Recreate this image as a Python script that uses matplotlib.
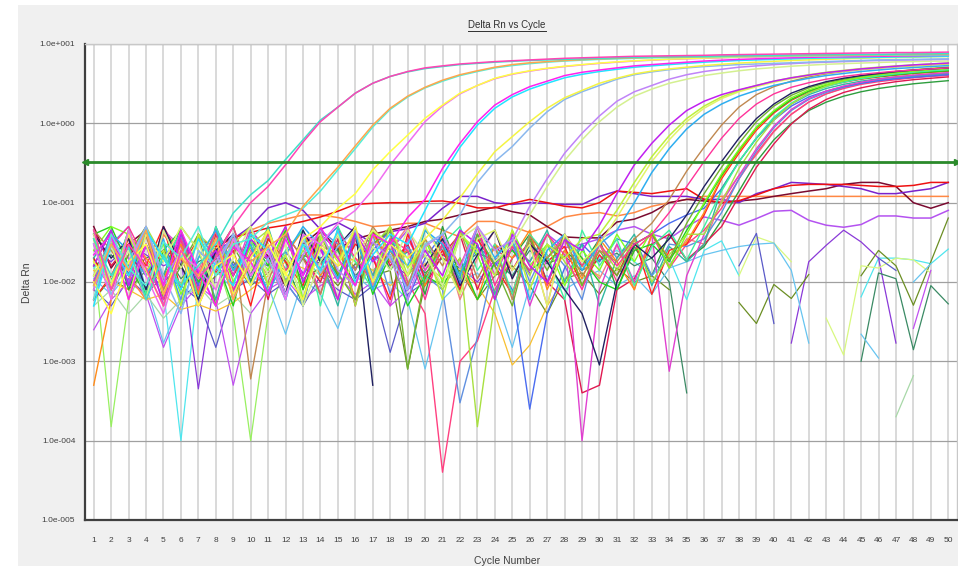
import numpy as np
import matplotlib
matplotlib.use("Agg")
import matplotlib.pyplot as plt
from matplotlib.lines import Line2D
from matplotlib.patches import Rectangle
from matplotlib.ticker import NullLocator

plt.rcParams['font.family'] = ['Liberation Sans', 'DejaVu Sans']

N = None  # gap (negative / not plotted value)

# ---------------- AXIS DATA ---------------- #
cycles = np.arange(1, 51)
threshold = 0.33
y_ticks = [1e-5, 1e-4, 1e-3, 1e-2, 1e-1, 1e0, 1e1]
y_tick_labels = ["1.0e-005", "1.0e-004", "1.0e-003", "1.0e-002",
                 "1.0e-001", "1.0e+000", "1.0e+001"]

# ---------------- EARLY AMPLIFICATION CURVES ---------------- #
turq = [.035, .012, .028, .006, .022, .009, .016, .030, .074, .126,
        .19, .35, .62, 1.1, 1.6, 2.4, 3.2, 3.9, 4.45, 4.9,
        5.2, 5.5, 5.7, 5.9, 6.05, 6.2, 6.3, 6.4, 6.5, 6.6,
        6.7, 6.8, 6.85, 6.9, 6.95, 7.0, 7.05, 7.1, 7.15, 7.2,
        7.25, 7.3, 7.3, 7.35, 7.4, 7.4, 7.45, 7.5, 7.5, 7.55]
pink = [.045, .008, .030, .015, .005, .025, .011, .020, .050, .100,
        .16, .30, .58, 1.05, 1.6, 2.4, 3.2, 3.9, 4.5, 5.0,
        5.3, 5.6, 5.8, 6.0, 6.15, 6.3, 6.45, 6.6, 6.7, 6.8,
        6.9, 7.0, 7.05, 7.1, 7.15, 7.2, 7.3, 7.35, 7.4, 7.45,
        7.5, 7.55, 7.6, 7.65, 7.7, 7.75, 7.8, 7.8, 7.85, 7.9]
orange_a = [.009, .030, .014, .045, .007, .020, .012, .035, .006, .018,
            .028, .040, .090, .16, .28, .52, .95, 1.55, 2.2, 2.85,
            3.5, 4.1, 4.6, 5.1, 5.5, 5.8, 6.0, 6.2, 6.35, 6.5,
            6.6, 6.7, 6.8, 6.85, 6.9, 6.95, 7.0, 7.05, 7.1, 7.1,
            7.15, 7.2, 7.2, 7.25, 7.3, 7.3, 7.35, 7.35, 7.4, 7.4]
aqua = [.006, .040, .015, .009, .032, .020, .050, .012, .030, .035,
        .057, .070, .085, .14, .26, .48, .90, 1.5, 2.15, 2.8,
        3.4, 4.0, 4.5, 5.0, 5.35, 5.65, 5.9, 6.1, 6.25, 6.4,
        6.5, 6.6, 6.7, 6.75, 6.8, 6.85, 6.9, 6.95, 7.0, 7.0,
        7.05, 7.1, 7.1, 7.15, 7.2, 7.2, 7.25, 7.25, 7.3, 7.3]
yellow_a = [.010, .004, .018, .030, .007, .025, .005, .016, .022, .009,
            .030, .012, .035, .050, .085, .13, .26, .44, .71, 1.16,
            1.7, 2.4, 3.0, 3.7, 4.2, 4.6, 4.95, 5.25, 5.5, 5.75,
            5.95, 6.15, 6.3, 6.45, 6.55, 6.65, 6.75, 6.85, 6.95, 7.0,
            7.05, 7.1, 7.15, 7.2, 7.25, 7.3, 7.35, 7.4, 7.45, 7.5]
orchid = [.030, .006, .045, .012, .004, .022, .015, .008, .035, .012,
          .025, .006, .040, .030, .055, .080, .145, .30, .56, 1.05,
          1.65, 2.35, 3.0, 3.65, 4.15, 4.55, 4.9, 5.2, 5.45, 5.7,
          5.9, 6.1, 6.25, 6.4, 6.5, 6.6, 6.7, 6.8, 6.85, 6.9,
          6.95, 7.0, 7.05, 7.1, 7.15, 7.2, 7.25, 7.3, 7.3, 7.35]
magenta_a = [.022, .040, .006, .030, .009, .045, .014, .005, .028, .018,
             .007, .035, .012, .050, .020, .009, .040, .030, .065, .11,
             .27, .56, 1.05, 1.7, 2.3, 2.9, 3.4, 4.0, 4.4, 4.7,
             5.0, 5.3, 5.5, 5.7, 5.9, 6.1, 6.25, 6.4, 6.5, 6.6,
             6.7, 6.8, 6.85, 6.9, 6.95, 7.0, 7.05, 7.1, 7.15, 7.2]
cyan_a = [.005, .030, .012, .045, .020, .008, .035, .016, .009, .040,
          .025, .006, .030, .014, .045, .010, .022, .040, .030, .080,
          .22, .50, .95, 1.55, 2.15, 2.7, 3.2, 3.75, 4.15, 4.5,
          4.8, 5.1, 5.3, 5.5, 5.7, 5.9, 6.05, 6.2, 6.3, 6.4,
          6.5, 6.6, 6.65, 6.7, 6.75, 6.8, 6.85, 6.9, 6.95, 7.0]
yellow_b = [.018, .009, .040, .014, .005, .025, .011, .035, .007, .020,
            .045, .013, .006, .028, .016, .050, .010, .030, .020, .035,
            .060, .115, .23, .44, .68, 1.05, 1.55, 2.1, 2.6, 3.2,
            3.7, 4.2, 4.55, 4.85, 5.1, 5.35, 5.55, 5.75, 5.9, 6.05,
            6.2, 6.3, 6.4, 6.5, 6.6, 6.7, 6.75, 6.8, 6.9, 6.95]
lightblue = [.030, .007, .018, .050, .012, .004, .025, .015, .040, .009,
             .020, .006, .035, .013, .028, .045, .011, .022, .008, .030,
             .040, .070, .18, .33, .51, .87, 1.4, 2.0, 2.5, 3.0,
             3.6, 4.1, 4.45, 4.75, 5.0, 5.2, 5.35, 5.5, 5.6, 5.7,
             5.8, 5.9, 6.0, 6.1, 6.2, 6.3, 6.35, 6.4, 6.45, 6.5]
lavender = [.008, .035, .015, .050, .010, .025, .005, .018, .040, .012,
            .030, .007, .022, .045, .014, .009, .032, .020, .006, .028,
            .040, .015, .050, .025, .034, .090, .20, .42, .75, 1.24,
            1.9, 2.5, 3.0, 3.6, 4.1, 4.5, 4.8, 5.1, 5.3, 5.5,
            5.65, 5.8, 5.9, 6.0, 6.1, 6.2, 6.25, 6.3, 6.35, 6.4]
palegreen = [.040, .010, .025, .006, .045, .015, .032, .008, .020, .050,
             .012, .030, .005, .018, .040, .010, .028, .014, .045, .022,
             .009, .035, .050, .018, .030, .070, .16, .34, .62, 1.05,
             1.6, 2.2, 2.7, 3.2, 3.6, 4.0, 4.3, 4.6, 4.85, 5.05,
             5.25, 5.4, 5.55, 5.65, 5.75, 5.85, 5.95, 6.0, 6.05, 6.1]
purplemag = [.016, .045, .009, .030, .005, .040, .013, .025, .007, .035,
             .020, .050, .010, .028, .006, .042, .018, .032, .008, .025,
             .012, .045, .030, .006, .040, .016, .010, .034, .025, .052,
             .13, .30, .56, .95, 1.45, 1.9, 2.3, 2.65, 3.0, 3.4,
             3.75, 4.05, 4.35, 4.6, 4.85, 5.05, 5.25, 5.45, 5.6, 5.75]
ygreen1 = [.035, .008, .045, .014, .025, .005, .040, .012, .030, .050,
           .009, .022, .006, .038, .018, .045, .010, .050, .015, .030,
           .006, .040, .025, .012, .045, .008, .030, .020, .035, .040,
           .080, .18, .38, .70, 1.15, 1.65, 2.15, 2.6, 3.0, 3.4,
           3.75, 4.1, 4.4, 4.65, 4.9, 5.1, 5.3, 5.45, 5.6, 5.75]
ygreen2 = [.012, .030, .006, .040, .018, .050, .025, .008, .035, .014,
           .045, .009, .028, .040, .006, .022, .045, .030, .012, .050,
           .020, .007, .035, .045, .014, .030, .005, .040, .018, .030,
           .065, .15, .33, .62, 1.05, 1.55, 2.05, 2.5, 2.9, 3.3,
           3.65, 4.0, 4.3, 4.55, 4.8, 5.0, 5.2, 5.35, 5.5, 5.65]
skyblue = [.009, .040, .025, .012, .035, .005, .020, .045, .014, .030,
           .007, .022, .050, .028, .011, .040, .008, .025, .016, .045,
           .030, .012, .050, .020, .035, .006, .025, .040, .014, .030,
           .045, .10, .24, .48, .85, 1.3, 1.75, 2.2, 2.6, 3.0,
           3.35, 3.7, 4.0, 4.25, 4.5, 4.7, 4.9, 5.05, 5.2, 5.35]

# ---------------- LATE CLUSTER (Ct ~36-39) ---------------- #
brown = [.045, .025, .012, .038, .008, .022, .005, .016, .035, .0006,
         .010, .040, .020, .007, .030, .014, .050, .025, .009, .035,
         .016, .045, .011, .028, .006, .038, .020, .035, .012, .025,
         .018, .035, .055, .11, .25, .50, .95, 1.6, 2.3, 2.9,
         3.4, 3.85, 4.2, 4.5, 4.75, 4.95, 5.15, 5.3, 5.45, 5.6]
deeppink = [.010, .028, .050, .018, .006, .035, .012, .045, .008, .022,
            .040, .014, .030, .007, .045, .020, .010, .035, .025, .006,
            .032, .016, .050, .009, .028, .014, .040, .022, .008, .030,
            .016, .030, .040, .075, .16, .33, .65, 1.15, 1.75, 2.35,
            2.85, 3.25, 3.6, 3.9, 4.15, 4.35, 4.55, 4.7, 4.85, 5.0]
navy = [.040, .020, .035, .008, .050, .016, .006, .025, .040, .012,
        .030, .007, .045, .018, .028, .050, .0005, N, N, .016,
        .035, .009, .022, .045, .011, .030, .018, .008, .004, .0009,
        .010, .030, .020, .035, .070, .16, .33, .65, 1.15, 1.75,
        2.4, 2.9, 3.35, 3.7, 4.0, 4.25, 4.5, 4.7, 4.85, 5.0]
lime = [.025, .050, .040, .012, .030, .007, .020, .045, .010, .028,
        .014, .050, .006, .035, .020, .009, .045, .025, .012, .035,
        .010, .040, .022, .006, .045, .016, .030, .009, .025, .014,
        .040, .018, .045, .015, .040, .10, .23, .47, .90, 1.45,
        2.1, 2.65, 3.1, 3.5, 3.8, 4.1, 4.35, 4.55, 4.75, 4.9]
green = [.040, .050, .016, .007, .025, .045, .010, .020, .005, .035,
         .016, .045, .008, .028, .012, .040, .007, .022, .005, .012,
         .009, .020, .006, .018, .025, .014, .020, .035, .020, .010,
         .008, .025, .030, .018, .045, .095, .22, .46, .88, 1.4,
         2.0, 2.55, 3.0, 3.35, 3.65, 3.9, 4.1, 4.3, 4.45, 4.6]
red_a = [.006, .012, .035, .016, .050, .008, .040, .013, .025, .005,
         .035, .018, .009, .045, .012, .030, .020, .006, .040, .011,
         .025, .008, .035, .016, .007, .040, .018, .028, .009, .022,
         .012, .035, .007, .025, .030, .070, .20, .42, .82, 1.35,
         1.95, 2.5, 2.95, 3.3, 3.6, 3.85, 4.05, 4.25, 4.4, 4.55]
orange_b = [.0005, .006, .040, .020, .011, .030, .007, .045, .014, .035,
            .009, .022, .045, .012, .030, .006, .040, .018, .025, .009,
            .040, .016, .006, .030, .020, .045, .008, .025, .011, .035,
            .018, .008, .040, .020, .032, .075, .21, .44, .85, 1.4,
            2.0, 2.55, 3.0, 3.4, 3.75, 4.0, 4.25, 4.45, 4.65, 4.8]
teal = [.020, .045, .009, .028, .012, .050, .025, .006, .040, .014,
        .050, .010, .030, .020, .005, .040, .012, .035, .008, .045,
        .025, .011, .040, .007, .028, .018, .045, .010, .030, .005,
        .020, .040, .009, .028, .018, .030, .15, .33, .65, 1.15,
        1.75, 2.3, 2.75, 3.1, 3.4, 3.65, 3.85, 4.0, 4.15, 4.3]
blue = [.030, .010, .045, .006, .020, .040, .009, .050, .016, .028,
        .007, .040, .012, .030, .050, .011, .025, .045, .006, .020,
        .040, .010, .028, .018, .008, .00025, .004, .015, .030, .018,
        .035, .030, .040, .055, .070, .085, .15, .33, .65, 1.1,
        1.65, 2.15, 2.55, 2.9, 3.2, 3.45, 3.65, 3.8, 3.95, 4.1]
ygreen3 = [.012, .035, .006, .050, .020, .009, .040, .025, .007, .030,
           .045, .010, .025, .014, .040, .005, .028, .050, .012, .022,
           .008, .020, .00015, .006, .030, .012, .040, .018, .009, .030,
           .014, .035, .010, .022, .040, .040, .10, .27, .58, 1.1,
           1.75, 2.4, 2.95, 3.45, 3.85, 4.2, 4.5, 4.75, 4.95, 5.15]
hotpink = [.008, .030, .015, .045, .009, .035, .005, .022, .050, .012,
           .030, .007, .040, .018, .006, .035, .012, .050, .010, .004,
           .00004, .0010, .0018, .008, .020, .030, .009, .040, .016, .030,
           .010, .025, .040, .015, .030, .045, .085, .20, .42, .80,
           1.3, 1.85, 2.35, 2.75, 3.1, 3.35, 3.55, 3.75, 3.9, 4.0]
salmon = [.040, .010, .022, .050, .007, .030, .014, .045, .006, .025,
          .012, .045, .008, .030, .020, .040, .009, .025, .050, .014,
          .035, .006, .020, .045, .011, .030, .005, .040, .020, .011,
          .030, .008, .040, .016, .035, .030, .11, .22, .40, .78,
          1.3, 1.85, 2.35, 2.8, 3.15, 3.45, 3.7, 3.9, 4.05, 4.2]
darkgreen = [.016, .045, .008, .030, .012, .040, .006, .022, .050, .010,
             .035, .018, .005, .040, .025, .009, .045, .014, .030, .007,
             .050, .012, .030, .006, .020, .040, .010, .025, .016, .035,
             .008, .028, .012, .040, .019, .028, .060, .14, .33, .62,
             1.0, 1.45, 1.85, 2.2, 2.5, 2.75, 2.95, 3.15, 3.3, 3.45]
magenta_b = [.010, .040, .020, .006, .045, .028, .008, .035, .012, .050,
             .018, .006, .040, .025, .010, .045, .022, .005, .035, .014,
             .028, .008, .050, .012, .035, .005, .020, .040, .0001, .008,
             .030, .010, .040, .00075, .012, .040, .10, .22, .48, .92,
             1.5, 2.05, 2.55, 2.95, 3.3, 3.6, 3.85, 4.05, 4.2, 4.35]
springgreen = [.030, .010, .045, .007, .020, .040, .006, .050, .014, .035,
               .009, .025, .045, .005, .050, .018, .008, .035, .020, .010,
               .030, .050, .014, .030, .007, .040, .022, .006, .045, .016,
               .035, .009, .028, .045, .019, .050, .14, .33, .66, 1.2,
               1.8, 2.4, 2.9, 3.3, 3.65, 3.95, 4.2, 4.4, 4.6, 4.75]
crimson = [.045, .016, .030, .008, .050, .020, .007, .040, .012, .030,
           .006, .040, .020, .010, .035, .005, .045, .016, .030, .009,
           .022, .040, .008, .030, .014, .035, .010, .006, .0004, .0005,
           .008, .011, .030, .040, .019, .030, .050, .12, .28, .55,
           .98, 1.5, 2.0, 2.45, 2.8, 3.1, 3.35, 3.55, 3.7, 3.85]
cornflower = [.012, .030, .050, .008, .025, .006, .040, .020, .009, .045,
              .025, .010, .005, .045, .030, .014, .040, .007, .028, .012,
              .008, .0003, .002, .020, .040, .010, .030, .016, .006, .040,
              .020, .035, .012, .030, .028, .035, .075, .20, .45, .88,
              1.45, 2.0, 2.45, 2.85, 3.2, 3.5, 3.7, 3.9, 4.05, 4.2]
olivegreen = [.035, .008, .022, .050, .006, .016, .040, .005, .028, .012,
              .045, .009, .020, .040, .013, .006, .030, .045, .0008, .012,
              .030, .007, .040, .016, .005, .035, .014, .040, .009, .025,
              .012, .030, .040, .019, .055, .13, .28, .56, 1.05, 1.65,
              2.25, 2.8, 3.25, 3.6, 3.95, 4.2, 4.45, 4.65, 4.85, 5.0]

# ---------------- NON-AMPLIFYING (FLAT) WELLS ---------------- #
red_flat = [.020, .008, .030, .012, .025, .015, .035, .028, .036, .042,
            .048, .052, .058, .066, .078, .095, .098, .100, .100, .104,
            .105, .098, .086, .086, .098, .110, .100, .090, .086, .100,
            .140, .135, .130, .140, .150, .110, .100, .106, .125, .150,
            .165, .170, .170, .170, .165, .160, .160, .165, .180, .180]
purple_flat = [.010, .040, .012, .045, .020, .030, .008, .023, .035, .050,
               .086, .100, .080, .046, .056, .043, .030, .043, .047, .055,
               .085, .120, .120, .100, .095, .100, .098, .095, .095, .120,
               .140, .130, .120, .120, .120, .110, .110, .100, .130, .150,
               .180, .175, .170, .160, .150, .130, .130, .140, .150, .180]
maroon_flat = [.050, .015, .030, .045, .010, .035, .008, .026, .012, .040,
               .021, .009, .030, .045, .026, .035, .040, .045, .050, .058,
               .062, .070, .078, .088, .077, .070, .050, .037, .036, .036,
               .057, .062, .075, .100, .110, .105, .100, .105, .110, .120,
               .130, .140, .150, .170, .180, .180, .160, .100, .085, .100]
orange_flat = [.008, .030, .012, .006, .040, .020, .010, .028, .035, .045,
               .055, .062, .070, .070, .065, .058, .050, .052, .055, .055,
               .045, .037, .058, .058, .050, .042, .050, .066, .072, .075,
               .068, .075, .090, .100, .110, .120, .120, .120, .120, .120,
               .120, .120, .120, .120, .120, .120, .120, .120, .120, .120]
lpurple_flat = [.006, .030, .010, .045, .008, .025, .015, .005, .035, .012,
                .040, .009, .030, .015, .006, .035, .012, .025, .045, .010,
                .030, .008, .040, .016, .030, .018, .040, .027, .030, .035,
                .045, .050, .040, .035, .050, .066, .060, .052, .063, .078,
                .080, .060, .052, .049, .053, .068, .068, .064, .064, .080]

# ---------------- NOISE-ONLY WELLS (with gaps) ---------------- #
lightgreen_n = ([.020, .00015, .006, .018, .012, .022, .015, .020, .004, .0001, .004, .015]
                + [.020, .012, .025, .018, .014, .022, .010, .016] + [N] * 30)
cyan_n = ([.015, .025, .020, .014, .008, .0001, .010, .022, .030, .018]
          + [.026, .015, .021, .012, .028, .006, .020, .016, .024, .030]
          + [.020, .015, .025, .018, .012, .028, .019, .022, .016, .020]
          + [.025, .018, .012, .020, .006] + [.025, .033, .012] + [N] * 6
          + [.0065, .020, .020, .019, .017, .026])
violet_n = ([.025, .018, .030, .022, .016, .020, .00045, .014, .028, .019]
            + [.016, .024, .013, .020, .027, .015, .021, .018, .012, .025]
            + [.022, .016, .010, .019, .026, .013] + [N] * 14
            + [.0017, .018, .029, .045, .032, .020, .0017] + [N] * 3)
seagreen_n = ([.016, .022, .013, .020, .025, .011, .018, .023, .015, .027]
              + [.019, .014, .022, .017, .026, .012, .021, .018, .024, .013]
              + [.020, .015, .023, .019, .012, .025, .017, .021, .014, .019]
              + [.023, .016, .020, .010, .0004] + [N] * 9
              + [.0010, .013, .011, .0014, .009, .0053])
olive_n = ([.006, .011, .008, .014, .010, .016, .007, .012, .018, .009,
            .013, .020, .011, .015, .009, .017, .012, .014, .0008, .010]
           + [.010, .014, .006, .012, .016, .009, .004, .011, .013, .007,
              .015, .010, .012, .008, N, N, N]
           + [.0055, .003, .0093, .0062, .0124] + [N] * 2
           + [.012, .025, .016, .0051, .018, .064])
paleyg_n = ([N] * 37 + [.012, .037, .031, .018] + [N]
            + [.0035, .0012, .016, .015, .020, .019, .013] + [N])
sky_n = ([.011, .007, .013, .009, .0017, .006, .010, .014, .008, .012]
         + [.009, .0022, .011, .007, .0026, .012, .008, .010, .006, .0008]
         + [.006, .010, .013, .007, .0015, .009, .012, .008, .011, .014]
         + [.009, .012, .007, .015, .018, .022, .025]
         + [.028, .030, .031, .014, .0017] + [N] * 2 + [.0022, .0011] + [N]
         + [.010, .017] + [N])
slate_n = ([.008, .005, .011, .007, .012, .009, .006, .0015, .008, .011]
           + [.007, .010, .005, .012, .008, .006, .009, .0013, .007, .010]
           + [N] * 17 + [.016, .041, .003] + [N] * 5 + [.020, .014] + [N] * 3)
orchid_n = ([.0025, .006, .010, .007, .0015, .005, .009, .006, .0005, .004]
            + [.008, .011, .006, .009, .012, .007, .010, .005, .008, .011]
            + [N] * 27 + [.0026, .014] + [N])
pale_n = ([.005, .008, .004, .007, .0035, .006, .009, .005, .007, .004]
          + [N] * 36 + [.0002, .00066] + [N] * 2)
gold_n = ([.014, .010, .008, .006, .007, .0045, .0052, .0043, .0055, .008]
          + [.012, .018, .015, .011, .016, .020, .014, .009, .013, .017]
          + [.011, .015, .009, .004, .0009, .0016, .005, .011, .016, .012]
          + [N] * 20)

noise_wells = [
    (lightgreen_n, "#98f060"), (cyan_n, "#4fe6ee"), (violet_n, "#8a3ad8"),
    (seagreen_n, "#3a8a64"), (olive_n, "#6b8e23"), (paleyg_n, "#d8f880"),
    (sky_n, "#66c4f0"), (slate_n, "#5a5ac8"), (orchid_n, "#c050f0"),
    (pale_n, "#a8d8a8"), (gold_n, "#f8c030"),
]
flat_wells = [
    (lpurple_flat, "#b452f0"), (orange_flat, "#ff8844"), (maroon_flat, "#7a0a30"),
    (purple_flat, "#7a22cc"), (red_flat, "#ee1111"),
]
cluster_wells = [
    (darkgreen, "#2e9e3e"), (crimson, "#e01850"), (salmon, "#f08080"),
    (hotpink, "#ff4080"), (cornflower, "#6090e0"), (blue, "#4a6cf0"),
    (teal, "#30b8a0"), (magenta_b, "#e040d0"), (red_a, "#ff2020"),
    (orange_b, "#ff8c1a"), (green, "#20d020"), (springgreen, "#40f0a0"),
    (ygreen3, "#a8e040"), (lime, "#80ff20"), (olivegreen, "#70b030"),
    (navy, "#202060"), (deeppink, "#ff3399"), (brown, "#c08850"),
]
early_wells = [
    (skyblue, "#2eaef0"), (ygreen2, "#e2f46a"), (ygreen1, "#bdf03c"),
    (purplemag, "#c020f0"), (palegreen, "#d4f090"), (lavender, "#c084f8"),
    (lightblue, "#8ab8ee"), (yellow_b, "#f4f444"), (cyan_a, "#22e4ff"),
    (magenta_a, "#ff22ee"), (orchid, "#f06ef0"), (yellow_a, "#ffff44"),
    (aqua, "#55eed8"), (orange_a, "#ffa64d"), (turq, "#3ee0c8"), (pink, "#ff44b4"),
]


def series(vals):
    arr = np.full(len(cycles), np.nan)
    v = np.array(vals, dtype=float)[:len(cycles)]
    arr[:len(v)] = v
    return arr


# ---------------- PLOT ---------------- #
W, H = 958, 566
fig = plt.figure(figsize=(W / 100, H / 100), dpi=100)
fig.patch.set_facecolor("white")
fig.add_artist(Rectangle((18 / W, 0), 1 - 18 / W, 1 - 5 / H, transform=fig.transFigure,
                         facecolor="#f0f0f0", edgecolor="none", zorder=-5))

ax = fig.add_axes([85 / W, 46 / H, 872 / W, 476 / H])
ax.set_facecolor("white")
ax.set_yscale("log")
ax.set_ylim(1e-5, 10)
ax.set_xlim(0.5, 50.5)

for group, lw in ((noise_wells, 0.9), (flat_wells, 1.1), (cluster_wells, 1.0), (early_wells, 1.1)):
    for vals, col in group:
        ax.plot(cycles, series(vals), color=col, lw=lw, zorder=3)

# threshold line with end arrows
ax.axhline(threshold, color="#2a8a2a", lw=2.0, zorder=6)
ax.plot(0, threshold, marker="<", ms=4, color="#2a8a2a",
        transform=ax.get_yaxis_transform(), clip_on=False, zorder=7)
ax.plot(1, threshold, marker=">", ms=4, color="#2a8a2a",
        transform=ax.get_yaxis_transform(), clip_on=False, zorder=7)

ax.set_xticks(cycles)
ax.set_xticklabels([str(c) for c in cycles])
ax.set_yticks(y_ticks)
ax.set_yticklabels(y_tick_labels)
ax.yaxis.set_minor_locator(NullLocator())
ax.tick_params(axis="both", length=0, labelsize=6, colors="#404040")
ax.tick_params(axis="y", pad=7)
ax.tick_params(axis="x", pad=12)

ax.set_axisbelow(True)
ax.grid(axis="x", color="#d9d9d9", lw=1.4)
ax.grid(axis="y", color="#a0a0a0", lw=0.9)

for side in ("left", "bottom"):
    ax.spines[side].set_color("#404040")
    ax.spines[side].set_linewidth(1.6)
for side in ("top", "right"):
    ax.spines[side].set_color("#c8c8c8")
    ax.spines[side].set_linewidth(1.0)

title = fig.text(507 / W, 1 - 25 / H, "Delta Rn vs Cycle", ha="center", va="center",
                 fontsize=7, color="#303030")
fig.text(27 / W, 1 - 283 / H, "Delta Rn", rotation=90, ha="center", va="center",
         fontsize=7.5, color="#404040")
fig.text(507 / W, 1 - 561 / H, "Cycle Number", ha="center", va="center",
         fontsize=7.5, color="#404040")

# underline the title
fig.canvas.draw()
bb = title.get_window_extent()
fig.add_artist(Line2D([bb.x0 / W, bb.x1 / W], [(bb.y0 - 1) / H, (bb.y0 - 1) / H],
                      transform=fig.transFigure, color="#303030", lw=0.7))

fig.savefig("out.png", dpi=100)
